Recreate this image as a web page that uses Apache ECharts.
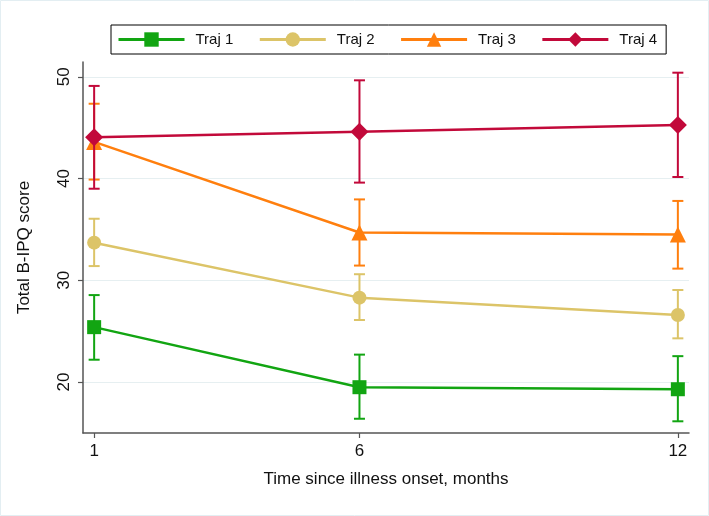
<!DOCTYPE html>
<html>
<head>
<meta charset="utf-8">
<script src="https://cdn.jsdelivr.net/npm/echarts@6/dist/echarts.min.js"></script>
<style>
html,body{margin:0;padding:0;background:#fff;}
#c{width:709px;height:516px;}
</style>
</head>
<body>
<div id="c"></div>
<script>
// ---- data ----
var months = [1, 6, 12];
var xTicks = [1, 6, 12];
var yTicks = [20, 30, 40, 50];
var seriesNames = ['Traj 1', 'Traj 2', 'Traj 3', 'Traj 4'];
var traj1 = [25.4, 19.5, 19.3];
var traj1Lo = [22.2, 16.4, 16.15];
var traj1Hi = [28.55, 22.7, 22.55];
var traj2 = [33.7, 28.3, 26.6];
var traj2Lo = [31.4, 26.1, 24.3];
var traj2Hi = [36.05, 30.6, 29.05];
var traj3 = [43.6, 34.7, 34.5];
var traj3Lo = [39.9, 31.45, 31.15];
var traj3Hi = [47.35, 37.95, 37.8];
var traj4 = [44.05, 44.6, 45.25];
var traj4Lo = [39.0, 39.6, 40.15];
var traj4Hi = [49.1, 49.65, 50.4];

var colors = ['#12a512', '#dcc468', '#ff7f0e', '#c2093a'];
var symbols = ['rect', 'circle', 'triangle', 'diamond'];
var symSizes = [14, 14, 16, 18];
var means = [traj1, traj2, traj3, traj4];
var los = [traj1Lo, traj2Lo, traj3Lo, traj4Lo];
var his = [traj1Hi, traj2Hi, traj3Hi, traj4Hi];

var FONT = 'Liberation Sans, Arial, sans-serif';

var series = [];
for (var s = 0; s < 4; s++) {
  (function (s) {
    series.push({
      type: 'line',
      name: seriesNames[s],
      z: 3 + s * 2,
      data: months.map(function (m, i) { return [m, means[s][i]]; }),
      symbol: symbols[s],
      symbolSize: symSizes[s],
      showAllSymbol: true,
      lineStyle: { color: colors[s], width: 2.5 },
      itemStyle: { color: colors[s] },
      emphasis: { disabled: true }
    });
    var ebData = months.map(function (m, i) { return [m, los[s][i], his[s][i]]; });
    series.push({
      type: 'custom',
      name: seriesNames[s] + ' CI',
      silent: true,
      z: 2 + s * 2,
      data: ebData,
      encode: { x: 0, y: [1, 2] },
      renderItem: function (params, api) {
        var x = api.value(0);
        var lo = api.coord([x, api.value(1)]);
        var hi = api.coord([x, api.value(2)]);
        var hw = 5.5;
        var st = { stroke: colors[s], lineWidth: 2 };
        return {
          type: 'group',
          children: [
            { type: 'line', shape: { x1: lo[0], y1: lo[1], x2: hi[0], y2: hi[1] }, style: st },
            { type: 'line', shape: { x1: lo[0] - hw, y1: lo[1], x2: lo[0] + hw, y2: lo[1] }, style: st },
            { type: 'line', shape: { x1: hi[0] - hw, y1: hi[1], x2: hi[0] + hw, y2: hi[1] }, style: st }
          ]
        };
      }
    });
  })(s);
}

var chart = echarts.init(document.getElementById('c'), null, { renderer: 'canvas' });
chart.setOption({
  animation: false,
  backgroundColor: '#ffffff',
  color: colors,
  textStyle: { fontFamily: FONT },
  graphic: [{
    type: 'rect', silent: true, z: -10,
    shape: { x: 0.5, y: 0.5, width: 708, height: 515 },
    style: { fill: 'none', stroke: '#e3eef2', lineWidth: 1 }
  }],
  grid: { left: 83, right: 20, top: 62, bottom: 83, containLabel: false },
  legend: {
    data: seriesNames,
    left: 111, top: 25,
    orient: 'horizontal',
    itemWidth: 66, itemHeight: 18,
    itemGap: 25,
    padding: [7, 9, 7, 6],
    borderColor: '#000', borderWidth: 1,
    lineStyle: { width: 3 },
    textStyle: { fontFamily: FONT, fontSize: 15, color: '#111', padding: [0, 0, 0, 6] }
  },
  xAxis: {
    type: 'value',
    min: 0.79, max: 12.21,
    name: 'Time since illness onset, months',
    nameLocation: 'middle', nameGap: 38,
    nameTextStyle: { fontFamily: FONT, fontSize: 17, color: '#111' },
    axisLine: { show: true, onZero: false, lineStyle: { color: '#555', width: 1.5 } },
    axisTick: { show: true, length: 5, customValues: xTicks, lineStyle: { color: '#555', width: 1.2 } },
    axisLabel: { customValues: xTicks, fontSize: 17, color: '#111', margin: 10, fontFamily: FONT },
    splitLine: { show: false }
  },
  yAxis: {
    type: 'value',
    min: 15, max: 51.45,
    name: 'Total B-IPQ score',
    nameLocation: 'middle', nameGap: 50, nameRotate: 90,
    nameTextStyle: { fontFamily: FONT, fontSize: 17, color: '#111' },
    axisLine: { show: true, onZero: false, lineStyle: { color: '#555', width: 1.5 } },
    axisTick: { show: true, length: 5, customValues: yTicks, lineStyle: { color: '#555', width: 1.2 } },
    axisLabel: { customValues: yTicks, fontSize: 17, color: '#111', margin: 10, rotate: 90, fontFamily: FONT },
    splitLine: { show: true, lineStyle: { color: '#e6eff1', width: 1.2 } }
  },
  series: series
});
</script>
</body>
</html>
